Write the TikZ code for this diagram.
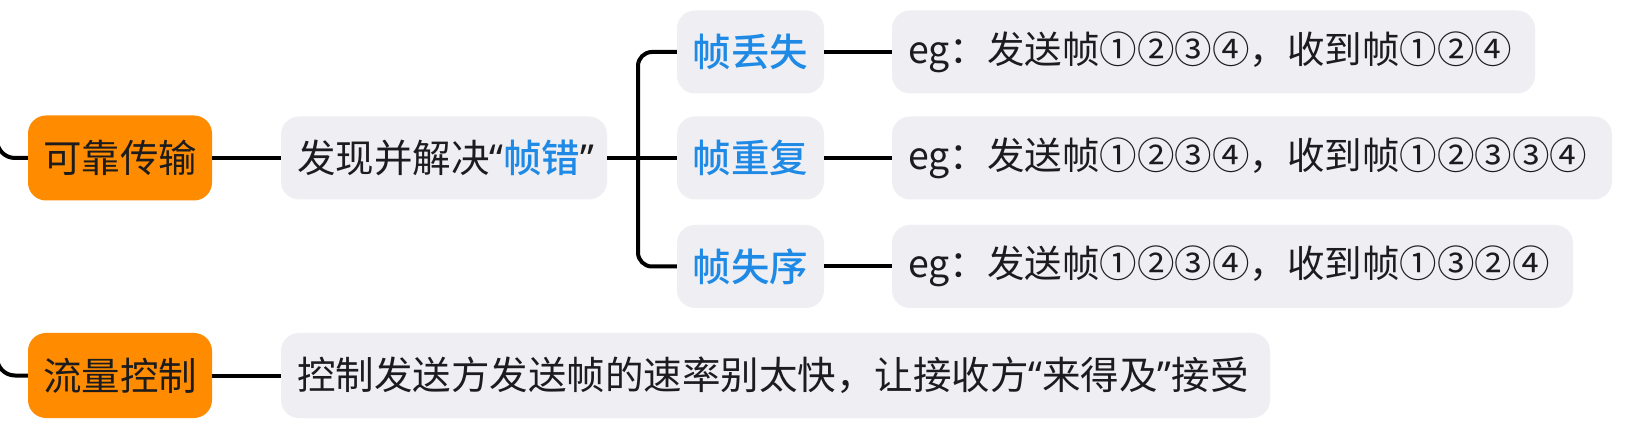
\documentclass[tikz,border=0pt]{standalone}
\usepackage{fontspec}
\setmainfont{Noto Sans CJK SC}
\newfontfamily\cjkmedium{Noto Sans CJK SC}[UprightFont=* Medium]
\newfontfamily\latinq{Noto Sans}
\usetikzlibrary{positioning}
\definecolor{orangefill}{RGB}{255,140,0}
\definecolor{greyfill}{RGB}{239,238,243}
\definecolor{bluetxt}{RGB}{30,138,230}
\definecolor{darktxt}{RGB}{28,28,30}
\newcommand{\myLq}{{\latinq “}}
\newcommand{\myRq}{{\latinq ”}}
\tikzset{
  boxbase/.style={rounded corners=18pt, inner ysep=0pt, inner xsep=16pt,
    font=\fontsize{38.5}{44}\selectfont, text=darktxt},
  orangebox/.style={boxbase, inner xsep=0pt, align=center, fill=orangefill, minimum width=184pt, minimum height=85pt},
  greybox/.style={boxbase, fill=greyfill, minimum height=83pt, align=left},
  egbox/.style={greybox, font=\fontsize{37.5}{44}\selectfont},
  bluebox/.style={boxbase, fill=greyfill, minimum height=83pt, inner xsep=0pt, align=center, text=bluetxt, minimum width=147pt, font=\fontsize{38.5}{44}\cjkmedium},
  conn/.style={line width=4pt, draw=black, rounded corners=14pt}
}
\begin{document}
\begin{tikzpicture}[x=1pt,y=-1pt]
\useasboundingbox (0,0) rectangle (1644,438);
\fill[white] (0,0) rectangle (1644,438);
% main nodes
\node[orangebox] (r1) at (120,158) {可靠传输};
\node[orangebox] (r2) at (120,375.5) {流量控制};
\node[greybox, text width=294pt] (a) at (444,158) {发现并解决\myLq{\cjkmedium\color{bluetxt}帧错}\myRq};
\node[bluebox] (f1) at (750.5,52) {帧丢失};
\node[bluebox] (f2) at (750.5,158) {帧重复};
\node[bluebox] (f3) at (750.5,266.5) {帧失序};
\node[egbox, text width=611pt] (e1) at (1213.5,52) {eg：发送帧①②③④，收到帧①②④};
\node[egbox, text width=688pt] (e2) at (1252,158) {eg：发送帧①②③④，收到帧①②③③④};
\node[egbox, text width=649pt] (e3) at (1232.5,266.5) {eg：发送帧①②③④，收到帧①③②④};
\node[greybox, text width=957pt, minimum height=85pt] (b) at (775.5,375.5) {控制发送方发送帧的速率别太快，让接收方\myLq 来得及\myRq 接受};
% coordinates
\coordinate (p1) at (-3,100);
\coordinate (p2) at (-3,318);
\coordinate (j) at (638,158);
% connectors
\draw[conn, rounded corners=18pt] (p1) |- (r1.west);
\draw[conn, rounded corners=18pt] (p2) |- (r2.west);
\draw[conn] (r1.east) -- (a.west);
\draw[conn] (r2.east) -- (b.west);
\draw[conn] (a.east) -- (f2.west);
\draw[conn] (f1.west) -| (j) |- (f3.west);
\draw[conn] (f1.east) -- (e1.west);
\draw[conn] (f2.east) -- (e2.west);
\draw[conn] (f3.east) -- (e3.west);
\end{tikzpicture}
\end{document}
